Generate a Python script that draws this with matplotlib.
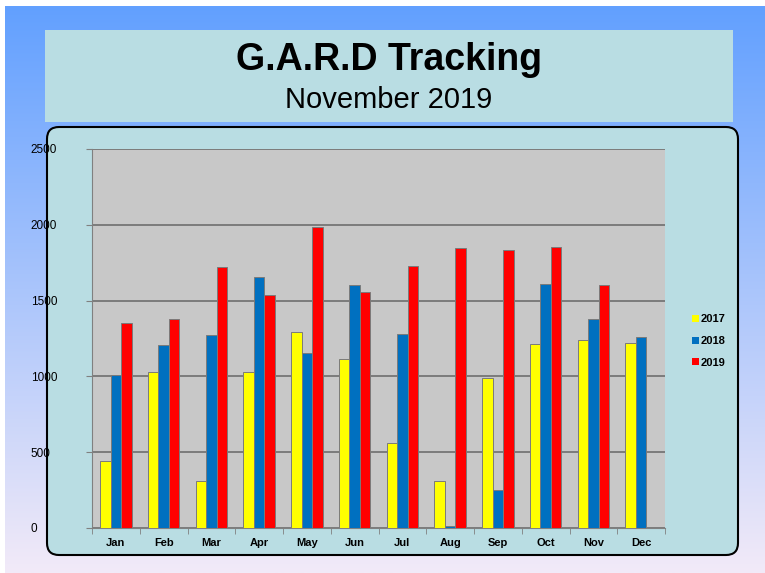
import numpy as np
import matplotlib
matplotlib.use("Agg")
import matplotlib.pyplot as plt
from matplotlib.patches import Rectangle, FancyBboxPatch, Patch

# Chart data
months = ["Jan", "Feb", "Mar", "Apr", "May", "Jun", "Jul", "Aug", "Sep", "Oct", "Nov", "Dec"]
years = ["2017", "2018", "2019"]
v2017 = [444, 1028, 308, 1028, 1296, 1114, 560, 308, 989, 1213, 1241, 1219]
v2018 = [1010, 1208, 1274, 1654, 1153, 1604, 1281, 10, 253, 1610, 1377, 1259]
v2019 = [1355, 1377, 1720, 1538, 1984, 1555, 1729, 1845, 1834, 1856, 1601, 0]
colors = ["#ffff00", "#0070c0", "#ff0000"]

W, H = 765, 573
fig = plt.figure(figsize=(W / 100, H / 100), dpi=100)
plt.rcParams["font.family"] = ["Liberation Sans", "DejaVu Sans"]

# background in pixel coordinates
bg = fig.add_axes([0, 0, 1, 1], zorder=0)
bg.axis("off")
top = np.array([0x62, 0xa0, 0xff]) / 255
bot = np.array([0xf2, 0xea, 0xf8]) / 255
t = np.linspace(0, 1, 256)[:, None]
grad = (top * (1 - t) + bot * t)[:, None, :]
bg.imshow(grad, extent=[5, W, H, 6], aspect="auto")
bg.set_xlim(0, W)
bg.set_ylim(H, 0)

bg.add_patch(Rectangle((45, 30), 688, 92, facecolor="#b9dde3", edgecolor="none"))
bg.add_patch(FancyBboxPatch((47, 127), 691, 428, boxstyle="round,pad=0,rounding_size=12",
                            facecolor="#b9dde3", edgecolor="black", linewidth=1.5))
bg.text(389, 60, "G.A.R.D Tracking", ha="center", va="center", fontsize=27, fontweight="bold")
bg.text(389, 100, "November 2019", ha="center", va="center", fontsize=21)

# plot area
ax = fig.add_axes([92 / W, (H - 528) / H, (665 - 92) / W, (528 - 149) / H], zorder=1)
ax.set_facecolor("#c8c8c8")
x = np.arange(len(months))
bw = 0.22
for i, (vals, c) in enumerate(zip([v2017, v2018, v2019], colors)):
    ax.bar(x + (i - 1) * bw, vals, width=bw, color=c, edgecolor="#7a7a7a",
           linewidth=0.7, zorder=3)

ax.set_xlim(-0.5, len(months) - 0.5)
ax.set_ylim(0, 2500)
ax.set_yticks(range(0, 2501, 500))
ax.yaxis.grid(True, color="#6e6e6e", linewidth=1.2, zorder=1)
ax.set_xticks(x)
ax.set_xticklabels(months, fontsize=8, fontweight="bold")
ax.set_xticks(np.arange(-0.5, len(months), 1), minor=True)
ax.tick_params(axis="x", which="major", length=0, pad=7)
ax.tick_params(axis="x", which="minor", length=4, color="#808080")
ax.tick_params(axis="y", length=4, color="#808080", labelsize=8.5, pad=8)
for lab in ax.get_yticklabels():
    lab.set_horizontalalignment("left")
    lab.set_x(-0.078)
for s in ["top", "right"]:
    ax.spines[s].set_visible(False)
ax.spines["left"].set_color("#808080")
ax.spines["bottom"].set_color("#808080")

handles = [Patch(facecolor=c, edgecolor="none") for c in colors]
fig.legend(handles, years, loc="center left", bbox_to_anchor=(682 / W, 1 - 341 / H),
           frameon=False, handlelength=0.6, handleheight=0.6, handletextpad=0.15,
           labelspacing=1.05, prop={"size": 8, "weight": "bold"})

fig.savefig("out.png", dpi=100)
